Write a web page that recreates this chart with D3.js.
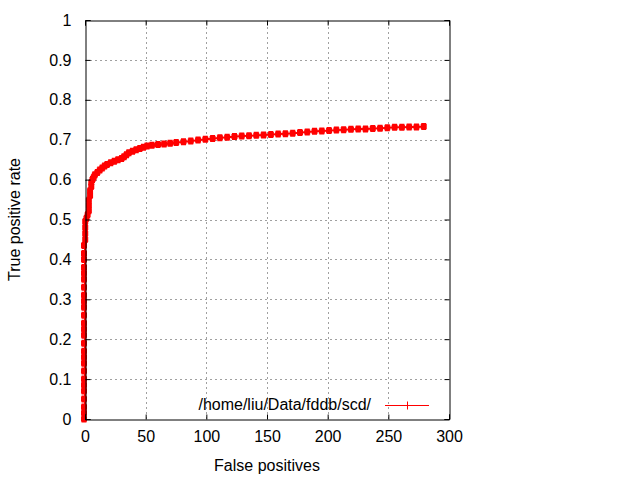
<!DOCTYPE html>
<html><head><meta charset="utf-8">
<script src="https://cdn.jsdelivr.net/npm/d3@7"></script>
<style>body{margin:0;background:#fff}svg{display:block}</style>
</head><body>
<script>
const xTicks = [0, 50, 100, 150, 200, 250, 300];
const yTicks = [0, 0.1, 0.2, 0.3, 0.4, 0.5, 0.6, 0.7, 0.8, 0.9, 1];
const yTickLabels = ["0", "0.1", "0.2", "0.3", "0.4", "0.5", "0.6", "0.7", "0.8", "0.9", "1"];
const seriesName = "/home/liu/Data/fddb/scd/";
const falsePositives = [
  0,0,0,0,0,0,0,0,0,0,0,0,0,0,0,0,0,0,0,0,0,0,0,0,0,0,
  1,1,1,1,
  2,3,4,4,4,5,5,6,6,7,8,9,11,13,15,17,19,22,25,28,31,33,35,37,40,43,46,49,52,56,61,66,71,76,82,88,94,
  100,106,112,118,124,130,136,142,148,154,160,166,172,178,184,190,196,202,208,214,220,226,232,238,244,250,256,262,268,274,280
];
const truePositiveRate = [
  0,0.015,0.03,0.05,0.07,0.085,0.1,0.12,0.14,0.155,0.17,0.19,0.21,0.225,0.24,0.26,0.28,0.295,0.31,0.33,0.35,0.365,0.38,0.4,0.415,0.435,
  0.45,0.465,0.48,0.495,
  0.503,0.512,0.522,0.535,0.548,0.56,0.572,0.583,0.593,0.6,0.606,0.612,0.618,0.624,0.629,0.634,0.638,0.642,0.646,0.65,0.653,0.657,0.662,0.667,0.671,0.675,0.678,0.681,0.684,0.686,0.688,0.689,0.691,0.693,0.695,0.697,0.699,
  0.701,0.703,0.705,0.706,0.708,0.709,0.710,0.711,0.712,0.713,0.714,0.715,0.716,0.718,0.719,0.721,0.722,0.723,0.724,0.725,0.726,0.727,0.727,0.728,0.729,0.730,0.731,0.731,0.732,0.732,0.733
];

const W = 640, H = 480;
const L = 85, R = 449, T = 20, B = 419;
const font = "'Liberation Sans', Arial, sans-serif";
const svg = d3.select("body").append("svg").attr("width", W).attr("height", H)
  .style("font-family", font).style("font-size", "16px");

const x = d3.scaleLinear().domain([0, 300]).range([L, R]);
const y = d3.scaleLinear().domain([0, 1]).range([B, T]);

// grid
const grid = svg.append("g").attr("stroke", "#a0a0a0").attr("stroke-width", 1).attr("stroke-dasharray", "2,3");
grid.selectAll(".gx").data(xTicks.filter(d => d > 0 && d < 300)).join("line")
  .attr("x1", d => Math.round(x(d)) + 0.5).attr("x2", d => Math.round(x(d)) + 0.5)
  .attr("y1", B).attr("y2", T);
grid.selectAll(".gy").data(yTicks.filter(d => d > 0 && d < 1)).join("line")
  .attr("y1", d => Math.round(y(d)) + 0.5).attr("y2", d => Math.round(y(d)) + 0.5)
  .attr("x1", L).attr("x2", R);

// data
const pts = falsePositives.map((f, i) => [f, truePositiveRate[i]]);
svg.append("path").datum(pts)
  .attr("fill", "none").attr("stroke", "#ff0000").attr("stroke-width", 2)
  .attr("d", d3.line().x(d => x(d[0])).y(d => y(d[1])));
svg.append("g").selectAll("path").data(pts).join("path")
  .attr("transform", d => `translate(${x(d[0]) - 1},${y(d[1])})`)
  .attr("d", "M-3,0H3M0,-3.5V3.5")
  .attr("stroke", "#ff0000").attr("stroke-width", 5).attr("fill", "none");

// axes (mirror ticks inside)
const xb = d3.axisBottom(x).tickValues(xTicks).tickSize(-5).tickPadding(11).tickFormat(d3.format("d"));
const gxb = svg.append("g").attr("transform", `translate(0,${B + 0.5})`).call(xb);
const xt = d3.axisTop(x).tickValues(xTicks).tickSize(-5).tickFormat("");
const gxt = svg.append("g").attr("transform", `translate(0,${T + 0.5})`).call(xt);
const yl = d3.axisLeft(y).tickValues(yTicks).tickSize(-5).tickPadding(14).tickFormat((d, i) => yTickLabels[i]);
const gyl = svg.append("g").attr("transform", `translate(${L + 0.5},0)`).call(yl);
const yr = d3.axisRight(y).tickValues(yTicks).tickSize(-5).tickFormat("");
const gyr = svg.append("g").attr("transform", `translate(${R + 0.5},0)`).call(yr);
[gxb, gxt, gyl, gyr].forEach(g => {
  g.selectAll(".domain").attr("stroke", "#000");
  g.selectAll(".tick line").attr("stroke", "#000");
  g.selectAll("text").attr("fill", "#000").style("font-family", font).style("font-size", "16px");
});

// axis titles
svg.append("text").attr("x", (L + R) / 2).attr("y", 471).attr("text-anchor", "middle").text("False positives");
svg.append("text").attr("transform", `translate(20,${(T + B) / 2}) rotate(-90)`).attr("text-anchor", "middle").text("True positive rate");

// legend
svg.append("text").attr("x", 371).attr("y", 410).attr("text-anchor", "end").text(seriesName);
svg.append("line").attr("x1", 385).attr("x2", 429).attr("y1", 405.5).attr("y2", 405.5).attr("stroke", "#ff0000").attr("stroke-width", 1);
svg.append("line").attr("x1", 407.5).attr("x2", 407.5).attr("y1", 401.5).attr("y2", 409.5).attr("stroke", "#ff0000").attr("stroke-width", 1);
</script>
</body></html>
